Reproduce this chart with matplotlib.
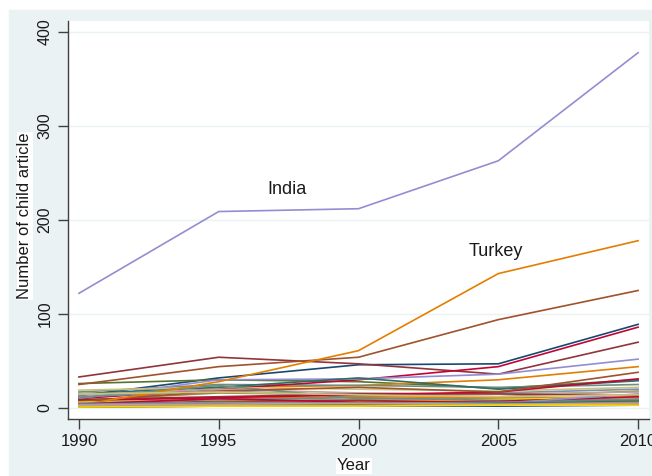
import matplotlib
matplotlib.use("Agg")
import matplotlib.pyplot as plt
from matplotlib.patches import Rectangle

# Stata s2color palette, cycled over the series
palette = ["#1a476f", "#90353b", "#55752f", "#e37e00", "#6e8e84",
           "#c10534", "#938dd2", "#cac27e", "#a0522d", "#7b92a8",
           "#2d6d66", "#9c8847", "#bfa19c", "#ffd200", "#d9e6eb"]

years = [1990, 1995, 2000, 2005, 2010]

# one row per country (small ones estimated)
counts = [
    [13, 32, 46, 47, 89],
    [33, 54, 47, 36, 70],
    [26, 30, 28, 21, 30],
    [5, 22, 24, 30, 44],
    [17, 25, 24, 22, 25],
    [10, 20, 30, 44, 86],
    [10, 30, 31, 36, 52],
    [19, 22, 20, 18, 22],
    [25, 44, 54, 94, 125],
    [12, 18, 14, 16, 20],
    [15, 22, 32, 20, 29],
    [8, 16, 14, 12, 18],
    [14, 20, 16, 15, 17],
    [3, 4, 5, 7, 10],
    [2, 3, 3, 4, 5],
    [2, 3, 4, 3, 6],
    [9, 12, 15, 15, 13],
    [3, 5, 6, 6, 9],
    [6, 10, 12, 11, 11],
    [11, 24, 10, 8, 8],
    [8, 11, 14, 17, 31],
    [122, 209, 212, 263, 378],   # India
    [4, 6, 7, 8, 9],
    [7, 18, 22, 17, 38],
    [3, 5, 7, 5, 11],
    [2, 4, 7, 6, 10],
    [5, 8, 9, 10, 12],
    [6, 9, 8, 9, 10],
    [6, 8, 7, 9, 12],
    [1, 2, 2, 3, 4],
    [1, 2, 2, 2, 3],
    [4, 7, 8, 6, 9],
    [2, 4, 5, 7, 8],
    [3, 28, 61, 143, 178],       # Turkey
    [5, 9, 11, 8, 9],
    [4, 10, 6, 7, 12],
    [2, 3, 4, 5, 15],
    [15, 17, 14, 12, 14],
    [3, 5, 4, 6, 7],
    [4, 6, 5, 6, 7],
    [1, 3, 4, 5, 7],
    [2, 3, 3, 4, 6],
    [3, 4, 5, 4, 5],
    [1, 2, 2, 3, 3],
]

annotations = [("India", 1997.45, 232), ("Turkey", 2004.9, 166)]

yticks = [0, 100, 200, 300, 400]
xticks = [1990, 1995, 2000, 2005, 2010]

plt.rcParams["font.family"] = ["Liberation Sans", "DejaVu Sans"]

bg = "#eaf2f3"
axis_col = "#404040"

fig = plt.figure(figsize=(6.52, 4.76), dpi=100, facecolor="white")
fig.patches.append(Rectangle((9 / 652, 0), 1, 1 - 10 / 476,
                             transform=fig.transFigure, color=bg, zorder=-10))

ax = fig.add_axes([68 / 652, 1 - 419 / 476, 581 / 652, 398 / 476])
ax.set_facecolor("white")

for i, row in enumerate(counts):
    ax.plot(years, row, color=palette[i % len(palette)], lw=1.2,
            solid_joinstyle="miter")

for name, x, y in annotations:
    ax.text(x, y, name, fontsize=13, color="#1a1a1a", ha="center", va="center")

ax.set_xlim(1989.61, 2010.39)
ax.set_ylim(-11.7, 411.7)
ax.set_xticks(xticks)
ax.set_yticks(yticks)
ax.set_yticklabels([str(v) for v in yticks], rotation=90, va="center",
                   fontsize=11.5)
ax.grid(axis="y", color=bg, lw=1.0, zorder=0)
ax.set_axisbelow(True)

for s in ["top", "right"]:
    ax.spines[s].set_visible(False)
for s in ["left", "bottom"]:
    ax.spines[s].set_color(axis_col)
    ax.spines[s].set_linewidth(1.0)
ax.tick_params(axis="both", direction="out", length=7, width=1.0,
               color=axis_col, labelcolor="#1a1a1a", pad=4)
ax.tick_params(axis="x", labelsize=12)

fig.text(25 / 652, 1 - 216 / 476, "Number of child article", rotation=90,
         ha="center", va="center", fontsize=12, color="#1a1a1a",
         bbox=dict(facecolor="white", edgecolor="none", pad=0.5))
fig.text(354 / 652, 1 - 466 / 476, "Year", ha="center", va="center",
         fontsize=12, color="#1a1a1a",
         bbox=dict(facecolor="white", edgecolor="none", pad=0.5))

fig.savefig("out.png", dpi=100, facecolor="white")
